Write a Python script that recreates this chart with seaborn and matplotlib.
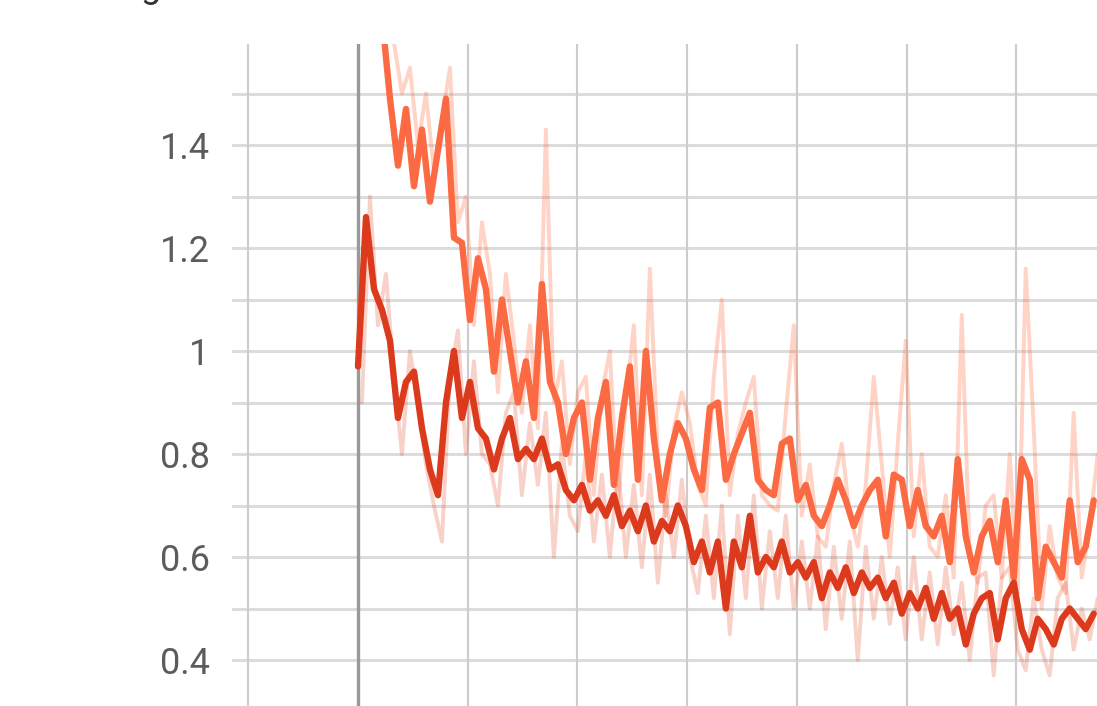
import numpy as np
import pandas as pd
import matplotlib
matplotlib.use("Agg")
import matplotlib.pyplot as plt
import seaborn as sns

# ---- data (x in grid units, one unit per vertical gridline) ----
sample_step = 0.0729  # spacing between samples
red_smooth = [0.97, 1.26, 1.12, 1.08, 1.02, 0.87, 0.94, 0.96, 0.85, 0.77, 0.72, 0.90, 1.00, 0.87, 0.94,
              0.85, 0.83, 0.77, 0.83, 0.87, 0.79, 0.81, 0.79, 0.83, 0.77, 0.78, 0.73, 0.71, 0.74, 0.69,
              0.71, 0.68, 0.72, 0.66, 0.69, 0.65, 0.70, 0.63, 0.67, 0.65, 0.70, 0.66, 0.59, 0.63, 0.57,
              0.63, 0.50, 0.63, 0.58, 0.68, 0.57, 0.60, 0.58, 0.63, 0.57, 0.59, 0.56, 0.59, 0.52, 0.57,
              0.54, 0.58, 0.53, 0.57, 0.54, 0.56, 0.52, 0.55, 0.49, 0.53, 0.50, 0.54, 0.48, 0.53, 0.48,
              0.50, 0.43, 0.49, 0.52, 0.53, 0.44, 0.52, 0.55, 0.46, 0.42, 0.48, 0.46, 0.43, 0.48, 0.50,
              0.48, 0.46, 0.49]
orange_smooth = [2.20, 2.00, 1.80, 1.65, 1.49, 1.36, 1.47, 1.32, 1.43, 1.29, 1.39, 1.49, 1.22, 1.21, 1.06,
                 1.18, 1.12, 0.96, 1.10, 1.00, 0.90, 0.98, 0.87, 1.13, 0.94, 0.90, 0.80, 0.87, 0.90, 0.75,
                 0.87, 0.94, 0.74, 0.87, 0.97, 0.75, 1.00, 0.83, 0.71, 0.80, 0.86, 0.83, 0.77, 0.73, 0.89,
                 0.90, 0.75, 0.80, 0.84, 0.88, 0.75, 0.73, 0.72, 0.82, 0.83, 0.71, 0.74, 0.68, 0.66, 0.70,
                 0.75, 0.71, 0.66, 0.70, 0.73, 0.75, 0.64, 0.76, 0.75, 0.66, 0.73, 0.66, 0.64, 0.68, 0.59,
                 0.79, 0.64, 0.57, 0.64, 0.67, 0.59, 0.71, 0.56, 0.79, 0.75, 0.52, 0.62, 0.59, 0.56, 0.71,
                 0.59, 0.62, 0.71]
orange_raw = [2.30, 2.10, 1.90, 1.75, 1.60, 1.50, 1.55, 1.40, 1.50, 1.35, 1.45, 1.55, 1.25, 1.30, 1.05,
              1.25, 1.15, 0.92, 1.15, 1.02, 0.88, 1.05, 0.85, 1.43, 0.90, 0.98, 0.78, 0.92, 0.95, 0.72,
              0.92, 1.00, 0.70, 0.90, 1.05, 0.72, 1.16, 0.80, 0.68, 0.85, 0.92, 0.86, 0.74, 0.70, 0.95,
              1.10, 0.72, 0.84, 0.90, 0.95, 0.72, 0.70, 0.69, 0.88, 1.05, 0.68, 0.78, 0.64, 0.62, 0.74,
              0.82, 0.68, 0.62, 0.74, 0.95, 0.78, 0.60, 0.82, 1.02, 0.64, 0.80, 0.62, 0.60, 0.72, 0.56,
              1.07, 0.60, 0.55, 0.70, 0.72, 0.56, 0.80, 0.53, 1.16, 0.85, 0.50, 0.66, 0.56, 0.53, 0.88,
              0.56, 0.66, 0.80]
red_raw = [0.90, 1.30, 1.05, 1.15, 0.95, 0.80, 1.00, 0.90, 0.78, 0.70, 0.63, 0.95, 1.04, 0.80, 0.98,
           0.80, 0.78, 0.70, 0.88, 0.92, 0.72, 0.86, 0.74, 0.88, 0.60, 0.82, 0.68, 0.65, 0.80, 0.63,
           0.76, 0.60, 0.78, 0.60, 0.74, 0.58, 0.76, 0.55, 0.72, 0.60, 0.75, 0.60, 0.53, 0.68, 0.52,
           0.70, 0.45, 0.68, 0.52, 0.72, 0.50, 0.65, 0.52, 0.68, 0.50, 0.63, 0.50, 0.64, 0.46, 0.62,
           0.48, 0.63, 0.40, 0.62, 0.48, 0.60, 0.47, 0.58, 0.44, 0.60, 0.44, 0.57, 0.43, 0.58, 0.45,
           0.55, 0.40, 0.56, 0.57, 0.37, 0.56, 0.58, 0.42, 0.38, 0.52, 0.42, 0.37, 0.52, 0.55, 0.42,
           0.50, 0.44, 0.52]
y_tick_values = [0.4, 0.6, 0.8, 1.0, 1.2, 1.4]
y_tick_labels = ["0.4", "0.6", "0.8", "1", "1.2", "1.4"]

def frame(vals, offset=0.0):
    return pd.DataFrame({"step": offset + np.arange(len(vals)) * sample_step, "value": vals})

sns.set_style("white")
plt.rcParams["font.family"] = ["Roboto", "DejaVu Sans"]

W, H = 1097, 706
fig = plt.figure(figsize=(W / 100, H / 100), dpi=100)
ax = fig.add_axes([232 / W, 0.0, 1 - 232 / W, 1 - 44 / H])

x0 = (232 - 358) / 109.7
x1 = (1097 - 358) / 109.7
ax.set_xlim(x0, x1)
ax.set_ylim(1 - (706 - 351) / 515, 1 - (44 - 351) / 515)

# grid
for v in np.arange(0.4, 1.61, 0.1):
    ax.axhline(v, color="#dcdcdc", lw=2.2, zorder=0)
for g in range(-1, 7):
    if g == 0:
        ax.axvline(g, color="#999999", lw=2.4, zorder=0.5)
    else:
        ax.axvline(g, color="#cccccc", lw=1.5, zorder=0)

# raw (faint) series
sns.lineplot(data=frame(orange_raw, 0.036), x="step", y="value", ax=ax, color="#ff7043",
             alpha=0.3, lw=2.8, zorder=1)
sns.lineplot(data=frame(red_raw, 0.036), x="step", y="value", ax=ax, color="#e2401f",
             alpha=0.24, lw=2.8, zorder=1)
# smoothed series
sns.lineplot(data=frame(orange_smooth), x="step", y="value", ax=ax, color="#fb6a42",
             lw=4.6, zorder=3)
sns.lineplot(data=frame(red_smooth), x="step", y="value", ax=ax, color="#dc3a1d",
             lw=4.6, zorder=4)

for s in ax.spines.values():
    s.set_visible(False)
ax.set_yticks(y_tick_values)
ax.set_yticklabels(y_tick_labels)
ax.set_xticks([])
ax.tick_params(axis="y", length=0, pad=16, labelsize=26, labelcolor="#5c5c5c")
ax.set_xlabel("")
ax.set_ylabel("")

# cropped title fragment at the very top (only its descender is visible in the reference)
fig.text(140 / W, 1 + 3 / H, "g", fontsize=26, color="#333333", va="baseline", ha="left")

fig.savefig("out.png", dpi=100)
